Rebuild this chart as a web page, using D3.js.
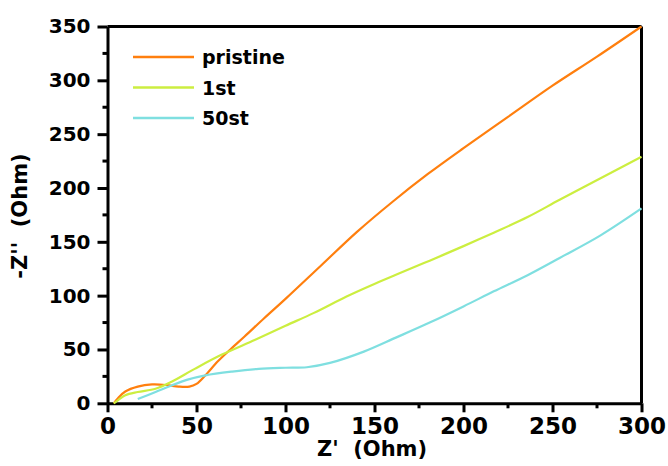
<!DOCTYPE html>
<html>
<head>
<meta charset="utf-8">
<script src="https://cdn.jsdelivr.net/npm/d3@7"></script>
<style>
	body { margin: 0; background: #fff; }
	text { font-family: "DejaVu Sans", sans-serif; font-weight: bold; fill: #000; }
	.title { white-space: pre; }
</style>
</head>
<body>
<div id="vis"></div>
<script>
// data: [Z', -Z'']
const pristine = [[3.5,0],[6,5],[10,11],[17,15.5],[25,17.5],[33,17],[40,15.5],[46,15.5],[50,18],
	[55,26],[62,39],[69,50],[77,62],[88,79],[100,97],[120,128],[140,159],[160,187],[180,213],
	[200,237],[225,266],[250,295],[275,322],[300,350]];
const first = [[3.5,0],[6,3],[10,7.5],[17,10.5],[27,13.5],[36,20],[49,32],[64,45],[83,59],[100,72],
	[116,84],[134,99],[148,109.5],[163,120],[181,132.5],[200,146],[217,158.5],[236,173],[254,189],
	[277,209],[300,229]];
const fiftieth = [[17,4],[27,10.5],[36,16.5],[45,22],[55,26],[70,29.5],[85,32],[100,33],[112,33.5],
	[125,37.5],[144,48],[162,61],[181,75],[200,90],[217,104],[236,119],[254,135],[277,156],[300,181]];

const seriesNames = ["pristine", "1st", "50st"];
const seriesColors = ["#ff7f0e", "#ccee40", "#7fdfe0"];
const xTicks = [0, 50, 100, 150, 200, 250, 300];
const yTicks = [0, 50, 100, 150, 200, 250, 300, 350];

// frame
const FRAME_WIDTH = 668;
const FRAME_HEIGHT = 466;
const PLOT = {left: 107.5, right: 641.5, top: 26.5, bottom: 403.3};

const FRAME = d3.select("#vis")
	.append("svg")
		.attr("width", FRAME_WIDTH)
		.attr("height", FRAME_HEIGHT);

const X_SCALE = d3.scaleLinear().domain([0, 300]).range([PLOT.left, PLOT.right]);
const Y_SCALE = d3.scaleLinear().domain([0, 350]).range([PLOT.bottom, PLOT.top]);

// minor ticks
FRAME.selectAll(".xminor")
	.data(d3.range(25, 300, 50))
	.enter()
	.append("line")
		.attr("x1", (d) => X_SCALE(d)).attr("x2", (d) => X_SCALE(d))
		.attr("y1", PLOT.bottom).attr("y2", PLOT.bottom + 5)
		.attr("stroke", "#000").attr("stroke-width", 3);

FRAME.selectAll(".yminor")
	.data(d3.range(25, 350, 50))
	.enter()
	.append("line")
		.attr("y1", (d) => Y_SCALE(d)).attr("y2", (d) => Y_SCALE(d))
		.attr("x1", PLOT.left).attr("x2", PLOT.left - 5)
		.attr("stroke", "#000").attr("stroke-width", 3);

// x axis
const xAxis = FRAME.append("g")
	.attr("transform", "translate(0," + PLOT.bottom + ")")
	.call(d3.axisBottom(X_SCALE).tickValues(xTicks).tickSize(9).tickPadding(5).tickSizeOuter(0));

// y axis
const yAxis = FRAME.append("g")
	.attr("transform", "translate(" + PLOT.left + ",0)")
	.call(d3.axisLeft(Y_SCALE).tickValues(yTicks).tickSize(10).tickPadding(7).tickSizeOuter(0));

[xAxis, yAxis].forEach((ax) => {
	ax.select(".domain").attr("stroke-width", 3);
	ax.selectAll(".tick line").attr("stroke-width", 3);
});
xAxis.selectAll("text")
	.attr("font-family", "'Liberation Sans', Arial, sans-serif")
	.attr("font-size", 23);
yAxis.selectAll("text")
	.attr("font-family", null)
	.attr("font-size", 20);

// box top and right
FRAME.append("line")
	.attr("x1", PLOT.left).attr("x2", PLOT.right)
	.attr("y1", PLOT.top).attr("y2", PLOT.top)
	.attr("stroke", "#000").attr("stroke-width", 3);
FRAME.append("line")
	.attr("x1", PLOT.right).attr("x2", PLOT.right)
	.attr("y1", PLOT.top).attr("y2", PLOT.bottom)
	.attr("stroke", "#000").attr("stroke-width", 3);

// curves
const line = d3.line()
	.x((d) => X_SCALE(d[0]))
	.y((d) => Y_SCALE(d[1]))
	.curve(d3.curveCatmullRom);

FRAME.selectAll(".curve")
	.data([pristine, first, fiftieth])
	.enter()
	.append("path")
		.attr("d", line)
		.attr("fill", "none")
		.attr("stroke", (d, i) => seriesColors[i])
		.attr("stroke-width", 2.2);

// legend
const legend = FRAME.selectAll(".legend")
	.data(seriesNames)
	.enter()
	.append("g")
		.attr("transform", (d, i) => "translate(133," + (57 + i * 30.5) + ")");

legend.append("line")
	.attr("x1", 0).attr("x2", 61)
	.attr("stroke", (d, i) => seriesColors[i])
	.attr("stroke-width", 2.5);

legend.append("text")
	.attr("x", 69).attr("y", 7)
	.attr("font-size", 19)
	.text((d) => d);

// axis titles
FRAME.append("text")
	.attr("class", "title")
	.attr("x", 372).attr("y", 456)
	.attr("text-anchor", "middle")
	.attr("font-size", 21)
	.text("Z'  (Ohm)");

FRAME.append("text")
	.attr("class", "title")
	.attr("transform", "translate(27,216) rotate(-90)")
	.attr("text-anchor", "middle")
	.attr("font-size", 21)
	.text("-Z''  (Ohm)");
</script>
</body>
</html>
